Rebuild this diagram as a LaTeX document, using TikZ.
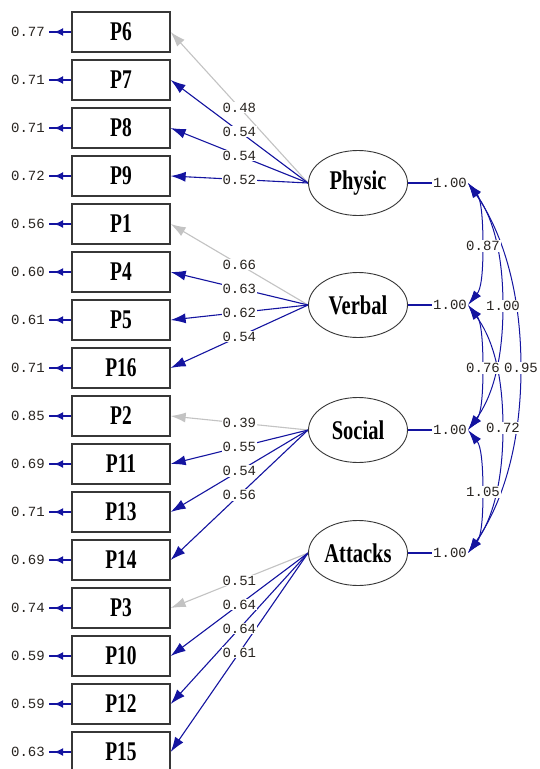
\documentclass[tikz,border=0pt]{standalone}
\usepackage{graphicx}
\usepackage{fontspec}
\setmainfont{Liberation Serif}
\newfontfamily\numfont{Liberation Mono}
\usetikzlibrary{arrows.meta,shapes.geometric,calc}
\definecolor{lblue}{RGB}{20,20,160}
\definecolor{lgrey}{RGB}{195,195,195}
\definecolor{ntext}{RGB}{40,36,32}
\definecolor{bord}{RGB}{55,55,55}
\newcommand\obstxt[1]{\scalebox{0.72}[1]{#1}}
\newcommand\lattxt[1]{\scalebox{0.76}[1]{#1}}
\pgfdeclarelayer{back}
\pgfdeclarelayer{bg}
\pgfsetlayers{back,bg,main}
\begin{document}
\begin{tikzpicture}[x=1pt,y=-1pt,
  obs/.style={draw=bord,line width=1.3pt,minimum width=98pt,minimum height=40pt,inner sep=0pt,fill=white,
    font=\fontsize{27}{27}\selectfont\bfseries},
  lat/.style={ellipse,draw=bord,line width=0.9pt,minimum width=99pt,minimum height=65pt,inner sep=0pt,fill=white,
    font=\fontsize{27}{27}\selectfont\bfseries},
  num/.style={font=\numfont\fontsize{14}{14}\selectfont,text=ntext,inner sep=1pt,fill=white},
  errnum/.style={num,anchor=east},
  load/.style={draw=lblue,line width=1.1pt,-{Latex[length=15pt,width=10pt]}},
  fixload/.style={load,draw=lgrey},
  errline/.style={draw=lblue,line width=1.4pt,shorten >=3pt},
  errarr/.style={draw=lblue,line width=2pt,-{Latex[length=9pt,width=8pt]},shorten >=8pt},
  varline/.style={draw=lblue,line width=1.2pt},
  cov/.style={draw=lblue,line width=1pt,
    {Latex[length=15pt,width=9pt]}-{Latex[length=15pt,width=9pt]}}
]
\begin{pgfonlayer}{back}
\fill[white] (0,0) rectangle (539,769);
\end{pgfonlayer}
\useasboundingbox (0,0) rectangle (539,769);

% observed boxes
\foreach \n [count=\i from 0] in {P6,P7,P8,P9,P1,P4,P5,P16,P2,P11,P13,P14,P3,P10,P12,P15}{
  \node[obs] (\n) at (121,32+48*\i) {\obstxt{\n}};
}
% error variances
\foreach \n/\v [count=\i from 0] in {P6/0.77,P7/0.71,P8/0.71,P9/0.72,P1/0.56,P4/0.60,P5/0.61,P16/0.71,
  P2/0.85,P11/0.69,P13/0.71,P14/0.69,P3/0.74,P10/0.59,P12/0.59,P15/0.63}{
  \node[errnum] (e\n) at (46,32+48*\i) {\v};
}
% latent variables
\node[lat] (Physic)  at (358,183) {\lattxt{Physic}};
\node[lat] (Verbal)  at (358,305) {\lattxt{Verbal}};
\node[lat] (Social)  at (358,430) {\lattxt{Social}};
\node[lat] (Attacks) at (358,553) {\lattxt{Attacks}};
% latent variances
\node[num] (vP) at (450,183) {1.00};
\node[num] (vV) at (450,305) {1.00};
\node[num] (vS) at (450,430) {1.00};
\node[num] (vA) at (450,553) {1.00};
% loading labels
\foreach \l/\n/\v in {Physic/P6/0.48,Physic/P7/0.54,Physic/P8/0.54,Physic/P9/0.52,
  Verbal/P1/0.66,Verbal/P4/0.63,Verbal/P5/0.62,Verbal/P16/0.54,
  Social/P2/0.39,Social/P11/0.55,Social/P13/0.54,Social/P14/0.56,
  Attacks/P3/0.51,Attacks/P10/0.64,Attacks/P12/0.64,Attacks/P15/0.61}{
  \node[num] (l\n) at ($(\l.west)!0.5!(\n.east)$) {\v};
}
% covariance labels
\node[num] (cPV) at (483,246) {0.87};
\node[num] (cPS) at (503,306) {1.00};
\node[num] (cVS) at (483,368) {0.76};
\node[num] (cPA) at (521,368) {0.95};
\node[num] (cVA) at (503,428) {0.72};
\node[num] (cSA) at (483,492) {1.05};

\begin{pgfonlayer}{bg}
% loadings
\foreach \l/\n in {Physic/P6,Verbal/P1,Social/P2,Attacks/P3}{
  \draw[fixload] (\l.west) -- (\n.east);
}
\foreach \l/\n in {Physic/P7,Physic/P8,Physic/P9,Verbal/P4,Verbal/P5,Verbal/P16,
  Social/P11,Social/P13,Social/P14,Attacks/P10,Attacks/P12,Attacks/P15}{
  \draw[load] (\l.west) -- (\n.east);
}
% errors
\foreach \n in {P6,P7,P8,P9,P1,P4,P5,P16,P2,P11,P13,P14,P3,P10,P12,P15}{
  \draw[errline] (\n.west) -- (e\n.east);
  \draw[errarr] (\n.west) -- (e\n.east);
}
% variance lines
\draw[varline] (Physic.east) -- (vP.west);
\draw[varline] (Verbal.east) -- (vV.west);
\draw[varline] (Social.east) -- (vS.west);
\draw[varline] (Attacks.east) -- (vA.west);
% covariances
\draw[cov] (vP.east) .. controls +(13,16) and +(0,-28) .. (cPV.center) .. controls +(0,28) and +(13,-16) .. (vV.east);
\draw[cov] (vV.east) .. controls +(13,16) and +(0,-28) .. (cVS.center) .. controls +(0,28) and +(13,-16) .. (vS.east);
\draw[cov] (vS.east) .. controls +(13,16) and +(0,-28) .. (cSA.center) .. controls +(0,28) and +(13,-16) .. (vA.east);
\draw[cov] (vP.east) .. controls +(22,30) and +(0,-60) .. (cPS.center) .. controls +(0,60) and +(22,-30) .. (vS.east);
\draw[cov] (vV.east) .. controls +(22,30) and +(0,-60) .. (cVA.center) .. controls +(0,60) and +(22,-30) .. (vA.east);
\draw[cov] (vP.east) .. controls +(28,40) and +(0,-90) .. (cPA.center) .. controls +(0,90) and +(28,-40) .. (vA.east);
\end{pgfonlayer}
\end{tikzpicture}
\end{document}
